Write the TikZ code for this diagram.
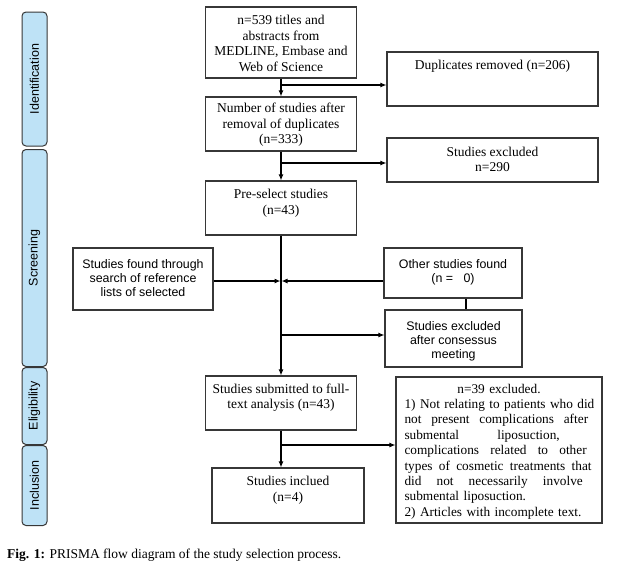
\documentclass[tikz,border=0pt]{standalone}
\usepackage{fontspec}
\setmainfont{Liberation Serif}
\newfontfamily\sansf{Liberation Sans}
\usetikzlibrary{arrows.meta}
\definecolor{edge}{RGB}{55,55,55}
\definecolor{phase}{RGB}{190,226,246}
\newcommand{\jline}[1]{\makebox[\linewidth][l]{#1}}
\newcommand{\jsp}{\hspace{0pt plus 1fil}\ }
\begin{document}
\begin{tikzpicture}[x=1pt,y=-1pt,
  box/.style={draw=edge, line width=1.1pt, inner sep=0pt, align=center},
  serif/.style={font=\fontsize{13.5}{15.5}\selectfont, align=center, inner sep=0pt},
  sanst/.style={font=\sansf\fontsize{12.4}{14}\selectfont, align=center, inner sep=0pt},
  phasebox/.style={draw=edge, line width=1pt, fill=phase, rounded corners=4pt, minimum height=25pt, inner sep=0pt, rotate=90, font=\sansf\fontsize{12.5}{14}\selectfont},
  arr/.style={draw=black, line width=1.1pt, -{Latex[length=6pt,width=5pt]}},
  ln/.style={draw=black, line width=1.1pt}]
\useasboundingbox[fill=white] (0,0) rectangle (628,568);

% phase labels
\node[phasebox, minimum width=134pt] (pid) at (34.5,79) {Identification};
\node[phasebox, minimum width=217pt] (psc) at (34.5,258) {Screening};
\node[phasebox, minimum width=77pt] (pel) at (34.5,406) {Eligibility};
\node[phasebox, minimum width=80pt] (pin) at (34.5,485.5) {Inclusion};

% main column
\node[box, minimum width=151pt, minimum height=71pt] (b1) at (281,42.5) {};
\node[serif] (b1t) at (281,43.5) {n=539 titles and\\abstracts from\\MEDLINE, Embase and\\Web of Science};
\node[box, minimum width=151pt, minimum height=54pt] (b2) at (281,124) {};
\node[serif] (b2t) at (281,125) {Number of studies after\\removal of duplicates\\(n=333)};
\node[box, minimum width=151pt, minimum height=54pt] (b3) at (281,208) {};
\node[serif] (b3t) at (281,203) {Pre-select studies\\(n=43)};
\node[box, minimum width=151pt, minimum height=54pt] (b4) at (281,403) {};
\node[serif] (b4t) at (281,397.5) {Studies submitted to full-\\text analysis (n=43)};
\node[box, minimum width=152pt, minimum height=55pt] (b5) at (288,495.5) {};
\node[serif] (b5t) at (288,490) {Studies inclued\\(n=4)};

% right column
\node[box, minimum width=211pt, minimum height=54pt] (dup) at (492.5,79) {};
\node[serif] (dupt) at (492.5,66) {Duplicates removed (n=206)};
\node[box, minimum width=211pt, minimum height=44pt] (ex1) at (492.5,160) {};
\node[serif] (ex1t) at (492.5,159.5) {Studies excluded\\n=290};
\node[box, minimum width=138pt, minimum height=50pt] (oth) at (453,273) {};
\node[sanst] (otht) at (453,272) {Other studies found\\(n =\ \ \ 0)};
\node[box, minimum width=137pt, minimum height=57pt] (cons) at (453.5,338.5) {};
\node[sanst] (const) at (453.5,341) {Studies excluded\\after consessus\\meeting};
\node[box, minimum width=206pt, minimum height=146pt] (ex3) at (499,450) {};
\node[font=\fontsize{13.3}{15.4}\selectfont, text width=189pt, align=left, inner sep=0pt] (ex3t) at (499,451.5) {%
\makebox[\linewidth]{n=39 excluded.}\\
\jline{1)\jsp Not\jsp relating\jsp to\jsp patients\jsp who\jsp did}\\
\jline{not\jsp present\jsp complications\jsp after}\\
\jline{submental\jsp liposuction,}\\
\jline{complications\jsp related\jsp to\jsp other}\\
\jline{types\jsp of\jsp cosmetic\jsp treatments\jsp that}\\
\jline{did\jsp not\jsp necessarily\jsp involve}\\
submental liposuction.\\
2) Articles with incomplete text.};

% left box
\node[box, minimum width=140pt, minimum height=62pt] (src) at (143,279) {};
\node[sanst] (srct) at (143,278.5) {Studies found through\\search of reference\\lists of selected};

% connectors
\draw[arr] (b1) -- (b2);
\draw[arr] (b2) -- (b3);
\draw[arr] (b3) -- (b4);
\draw[arr] (b4.south) -- (b4.south |- b5.north);

\coordinate (j1) at (281,85);
\coordinate (j2) at (281,163);
\coordinate (j3) at (281,281);
\coordinate (j4) at (281,335);
\coordinate (j5) at (281,445);
\draw[arr] (j1) -- (j1 -| dup.west);
\draw[arr] (j2) -- (j2 -| ex1.west);
\draw[arr] (src.east |- j3) -- ([xshift=-0.5pt]j3);
\draw[arr] (oth.west |- j3) -- ([xshift=0.5pt]j3);
\draw[arr] (j4) -- (j4 -| cons.west);
\draw[arr] (j5) -- (j5 -| ex3.west);
\draw[ln] ([xshift=13pt]oth.south) -- ([xshift=13pt]oth.south |- cons.north);

% caption
\node[anchor=west, inner sep=0pt, font=\fontsize{13.5}{15.5}\selectfont] (cap) at (7,555) {\textbf{Fig. 1:} PRISMA flow diagram of the study selection process.};
\end{tikzpicture}
\end{document}
